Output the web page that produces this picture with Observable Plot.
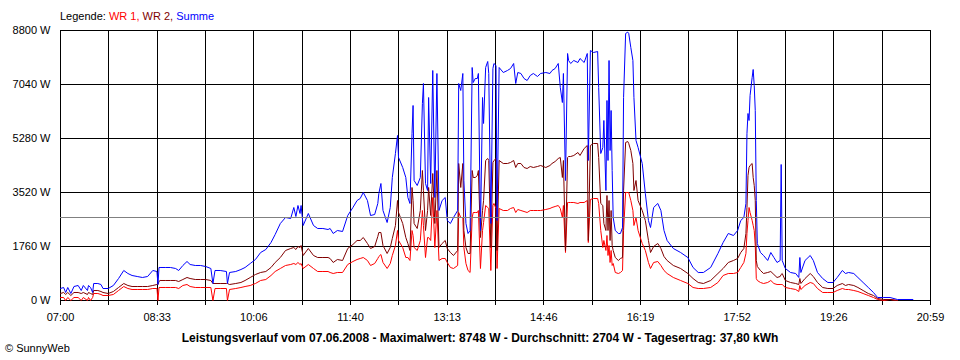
<!DOCTYPE html>
<html><head><meta charset="utf-8">
<script src="https://cdn.jsdelivr.net/npm/d3@7"></script>
<script src="https://cdn.jsdelivr.net/npm/@observablehq/plot@0.6"></script>
<style>
body{margin:0;background:#fff;}
#chart{position:relative;width:960px;height:360px;}
</style></head><body><div id="chart"></div>
<script>
// minutes after 07:00
const minute = [
0,3,5,7,10,13,17,20,22,26,
27,29,31,32,36,39,41,46,51,56,
61,65,69,74,79,84,89,93,94,95,
96,101,106,111,114,118,122,125,130,135,
140,145,147,149,154,160,161,163,169,174,
178,183,188,193,198,203,207,212,217,222,
225,227,229,231,232,234,239,244,248,253,
258,260,263,267,272,277,282,286,289,292,
296,299,303,306,307,309,311,315,318,320,
323,325,326,330,333,335,337,339,340,341,
344,347,349,350,352,354,355,357,359,361,
363,365,368,371,373,376,379,383,384,386,
388,389,391,393,395,397,398,400,402,403,
405,407,408,410,412,413,415,417,418,420,
421,423,427,431,434,437,439,441,444,447,
450,453,456,460,463,468,472,474,477,480,
482,484,485,487,489,490,492,495,499,501,
505,508,509,511,514,518,519,521,523,524,
526,527,528,529,530,531,532,533,535,538,
540,542,543,545,547,548,550,552,553,555,
557,561,564,567,569,572,576,579,582,585,
591,598,605,610,615,620,627,634,639,644,
649,653,656,659,661,662,663,664,665,667,
668,669,670,671,672,675,678,682,685,688,
691,694,695,696,699,704,709,712,713,714,
718,723,726,730,735,740,745,749,754,757,
760,765,769,774,779,784,788,794,800,807,
822
];
const summe = [
391,424,261,424,228,456,489,326,489,326,
489,424,261,554,554,521,391,391,489,717,
978,880,815,782,750,782,978,945,521,1076,
1076,1076,1076,1043,978,1141,1271,1173,1141,1141,
1108,1043,554,978,978,945,554,913,945,1010,
1076,1206,1336,1564,1662,1890,2151,2510,2705,2673,
3031,2738,3096,2836,3096,2444,2836,2444,2347,2347,
2314,2347,2184,2281,2249,2770,3031,3259,3324,3520,
3259,2770,2803,3162,3487,3813,2933,2542,3031,4009,
4791,5378,4661,4335,4009,3357,3162,5443,6356,3911,
3748,4009,6421,7073,3813,3585,6616,3813,7496,3357,
7399,2933,3259,3357,2607,2510,2705,2933,7073,6844,
7399,3911,2510,2184,2281,7594,7105,7236,7236,7399,
2281,6616,5769,7594,7790,7399,2510,7561,7724,7659,
2607,7594,7431,7496,7561,7724,7073,7431,7399,7236,
7170,7333,7399,7301,7399,7431,7399,7496,7561,7724,
6942,6453,7399,3911,8050,7822,7724,7822,7757,7887,
7757,8050,4563,8148,8083,8115,6942,4791,4987,5867,
3585,6519,4563,7822,4889,6193,4237,2705,2281,2184,
2184,2379,6616,8702,8748,8702,8246,7822,6616,5215,
4987,4465,3487,2607,2379,3031,3162,2933,2281,1956,
1695,1564,1401,1076,913,913,1076,1532,1890,2184,
2119,2281,2607,2705,3162,5443,6095,5867,6682,7268,
7529,7007,6193,3259,1858,1564,1467,1304,1564,1401,
1239,1304,4433,1304,1043,913,880,750,1401,913,
1304,1467,1304,913,717,587,587,750,978,880,
913,880,750,587,424,261,98,98,98,33,
33
];
const wr2 = [
228,261,196,261,163,261,261,228,261,196,
261,228,196,326,326,293,261,228,293,424,
554,489,456,456,456,456,489,521,521,619,
652,652,652,652,619,684,750,717,684,684,
684,652,554,554,554,554,554,521,554,587,
652,750,847,913,945,1076,1239,1401,1630,1695,
1727,1662,1760,1727,1793,1467,1695,1467,1401,1401,
1401,1369,1239,1336,1304,1695,1825,1956,1956,2053,
1858,1695,1760,2086,2216,2216,1793,1532,1727,2021,
2444,3259,2868,2510,2053,1858,1630,3683,3259,2510,
2347,2933,4237,3585,2281,2933,3683,2770,4139,2510,
4237,1727,1858,1956,1695,1564,1467,1630,4465,3683,
4465,2281,1727,1532,1532,4237,4009,4009,4074,4237,
2053,2933,3259,4563,4628,4563,1727,4498,4563,4628,
1630,4563,4465,4465,4498,4563,4335,4465,4465,4335,
4302,4367,4335,4367,4400,4335,4400,4465,4530,4628,
4661,4009,4563,1630,4661,4693,4693,4726,4824,4726,
4954,5052,1956,5052,5117,5117,4661,3162,3096,2510,
2281,3422,2281,3259,1956,2933,1793,1630,1401,1304,
1369,1401,3585,5150,5182,5117,4889,4465,3585,3911,
3259,2933,2607,1956,1564,1760,1858,1695,1434,1304,
1141,1043,880,717,587,554,652,880,1043,1239,
1304,1369,1564,1695,2184,3031,4074,4335,4400,4465,
4009,3748,3259,1304,1108,978,880,913,945,847,
750,782,847,880,652,587,554,521,717,554,
717,880,782,587,424,391,391,489,554,489,
521,489,424,326,228,163,65,33,33,0,
null
];
const wr1 = [
98,98,0,98,0,98,98,0,98,0,
98,0,98,228,228,196,163,163,196,326,
456,391,359,359,359,359,391,391,0,424,
424,424,424,424,391,489,521,456,424,424,
424,424,0,391,391,391,0,359,391,424,
456,489,554,652,684,815,945,1043,1141,1173,
1206,1173,1239,1173,1206,1043,1173,1043,945,945,
945,913,880,913,913,1173,1271,1336,1369,1401,
1304,1141,1206,1369,1434,1499,1239,1043,1206,1467,
1793,2281,1956,1727,1401,1401,1304,2281,2119,1727,
1630,1956,2933,2444,1401,2053,2053,1956,3357,1727,
2933,1304,1369,1369,1239,1076,1043,1141,2868,2705,
2705,1727,1206,978,913,2705,2868,2868,2868,2933,
1043,2281,2542,3096,3031,2999,978,3096,3162,2999,
1043,2999,2933,2933,2999,3031,2868,2966,2933,2901,
2868,2933,2933,2933,2933,2966,2999,3031,3064,3096,
2999,2705,3096,1564,3194,3194,3194,3194,3162,3194,
3194,3259,1890,3292,3324,3324,3162,2281,1727,1956,
1630,2119,1467,1793,1239,1630,1141,1206,913,880,
913,978,2281,3520,3520,3520,3259,2933,2444,2705,
2281,1858,1630,1239,1043,1239,1271,1141,978,880,
750,652,554,424,391,391,424,587,815,880,
880,913,1076,1239,1532,2184,2607,3031,2868,2607,
2444,2281,1793,717,652,587,554,587,652,554,
521,521,521,521,424,391,359,293,489,359,
489,587,554,391,261,261,261,326,391,359,
359,326,293,228,163,98,33,0,33,0,
null
];
const xTickLabels = ["07:00","08:33","10:06","11:40","13:13","14:46","16:19","17:52","19:26","20:59"];
const yTickValues = [0,1760,3520,5280,7040,8800];
const averageW = 2704;
const legendTitle = "Legende: ";
const legendLabels = ["WR 1", "WR 2", "Summe"];
const seriesColors = ["#ff0000", "#800000", "#0000ff"];
const captionText = "Leistungsverlauf vom 07.06.2008 - Maximalwert: 8748 W - Durchschnitt: 2704 W - Tagesertrag: 37,80 kWh";
const creditText = "\u00a9 SunnyWeb";

const rows = minute.map((m, i) => ({m, summe: summe[i], wr2: wr2[i], wr1: wr1[i]}));
const xMax = 839; // 07:00 .. 20:59
const gridX = d3.range(19).map(i => i * xMax / 18);
const font = "'Liberation Sans', Arial, sans-serif";

const chart = Plot.plot({
  width: 960, height: 360,
  marginLeft: 60, marginRight: 30, marginTop: 30, marginBottom: 60,
  style: {fontFamily: font, fontSize: "11px", color: "#000", background: "#fff", overflow: "visible"},
  x: {domain: [0, xMax]},
  y: {domain: [0, 8800]},
  marks: [
    Plot.ruleX(gridX, {stroke: "#000", strokeWidth: 1, shapeRendering: "crispEdges"}),
    Plot.ruleY(yTickValues, {stroke: "#000", strokeWidth: 1, shapeRendering: "crispEdges"}),
    Plot.axisX(gridX, {tickSize: 5, tickPadding: 8, label: null, shapeRendering: "crispEdges",
      tickFormat: d => { const i = Math.round(d * 18 / xMax); return i % 2 ? "" : xTickLabels[i / 2]; }}),
    Plot.axisY(yTickValues, {tickSize: 0, tickPadding: 10, label: null, tickFormat: d => `${d} W`}),
    Plot.line(rows.filter(d => d.wr1 != null), {x: "m", y: "wr1", stroke: seriesColors[0], strokeWidth: 1}),
    Plot.line(rows.filter(d => d.wr2 != null), {x: "m", y: "wr2", stroke: seriesColors[1], strokeWidth: 1}),
    Plot.line(rows, {x: "m", y: "summe", stroke: seriesColors[2], strokeWidth: 1}),
    Plot.ruleY([averageW], {stroke: "#808080", strokeWidth: 1, shapeRendering: "crispEdges"})
  ]
});

const svg = d3.select(chart);
const leg = svg.append("text").attr("x", 60).attr("y", 20).attr("text-anchor", "start")
  .style("font-family", font).style("font-size", "11px");
leg.append("tspan").attr("fill", "#000").text(legendTitle);
legendLabels.forEach((l, i) => {
  leg.append("tspan").attr("fill", seriesColors[i]).text(l + (i < legendLabels.length - 1 ? ", " : ""));
});
svg.append("text").attr("x", 480).attr("y", 342).attr("text-anchor", "middle")
  .style("font-family", font).style("font-size", "12px").style("font-weight", "bold")
  .attr("fill", "#000").text(captionText);
svg.append("text").attr("x", 5).attr("y", 352).attr("text-anchor", "start")
  .style("font-family", font).style("font-size", "11px")
  .attr("fill", "#000").text(creditText);

document.getElementById("chart").appendChild(chart);
</script>
</body></html>
